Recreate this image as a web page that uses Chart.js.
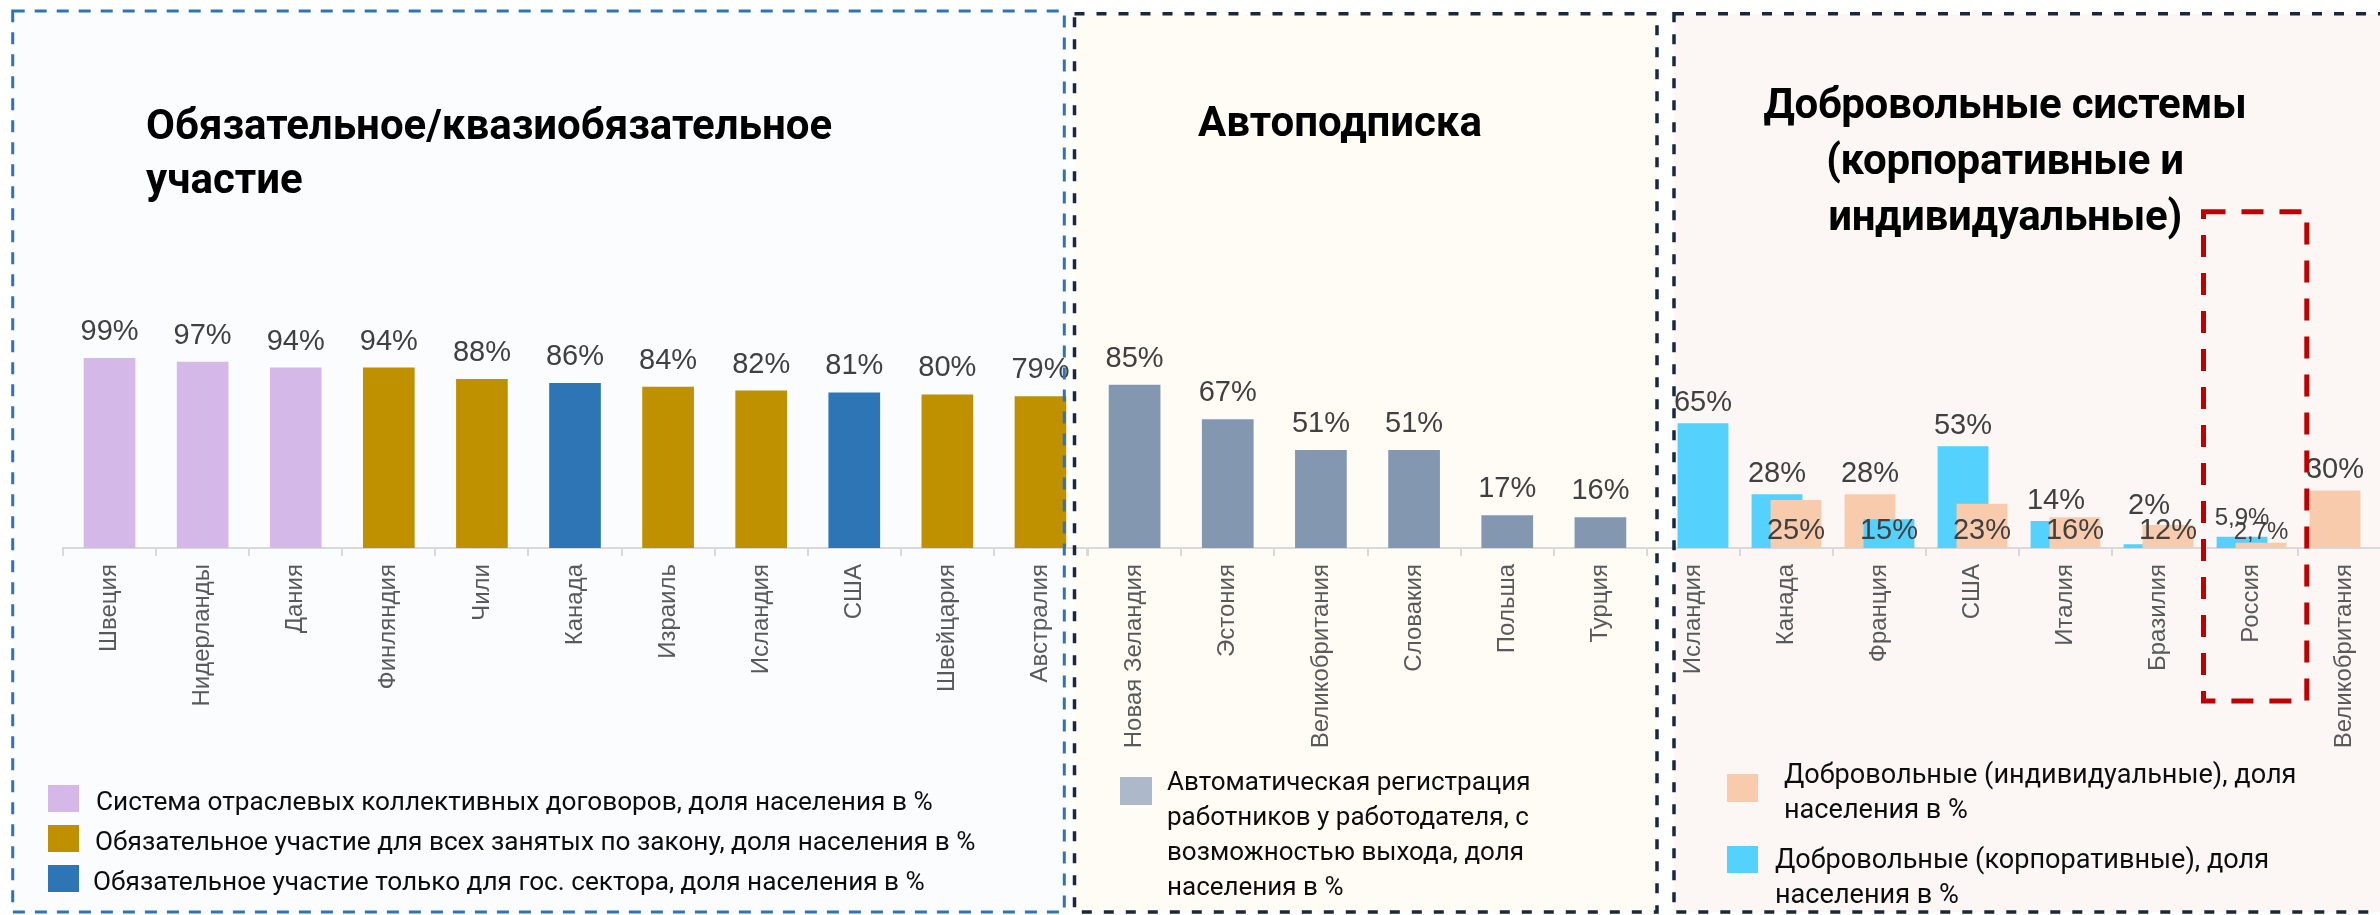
<!DOCTYPE html>
<html lang="ru">
<head>
<meta charset="utf-8">
<title>Системы пенсионного участия</title>
<script src="https://cdn.jsdelivr.net/npm/chart.js@4.4.1/dist/chart.umd.min.js"></script>
<style>
  html, body { margin: 0; padding: 0; overflow: hidden; background: #fff; }
  #page { position: relative; width: 2380px; height: 915px; overflow: hidden; }
  svg, canvas { position: absolute; left: 0; top: 0; }
  .t { position: absolute; white-space: nowrap; color: #0d0d0d; font-family: Roboto, "Open Sans", sans-serif; }
  .title { font-weight: 700; font-size: 42px; line-height: 54px; color: #000; }
  .leg1 { font-size: 26.2px; line-height: 30px; }
  .leg2 { font-size: 26px; line-height: 35px; }
  .leg3 { font-size: 27.1px; line-height: 35px; }
  .sw { position: absolute; }
</style>
</head>
<body>
<div id="page">
  <svg width="2380" height="915" style="z-index:0">
    <rect x="12.7" y="11" width="1051.6" height="901" fill="#FBFCFE"/>
    <rect x="1074.5" y="13.7" width="582.5" height="898.3" fill="#FFFCF5"/>
    <rect x="1674" y="13.7" width="800" height="898.3" fill="#FCF7F5"/>
  </svg>

  <canvas id="mandatory" width="2400" height="915" style="z-index:1"></canvas>
  <canvas id="auto" width="2400" height="915" style="z-index:1"></canvas>
  <canvas id="voluntary" width="2400" height="915" style="z-index:1"></canvas>

  <svg width="2380" height="915" style="z-index:2" fill="none">
    <rect x="12.7" y="11" width="1051.6" height="901" stroke="#2E75B6" stroke-width="3" stroke-dasharray="12 10"/>
    <rect x="1074.5" y="13.7" width="582.5" height="898.3" stroke="#17283F" stroke-width="3.5" stroke-dasharray="10 12"/>
    <rect x="1674" y="13.7" width="800" height="898.3" stroke="#17283F" stroke-width="3.5" stroke-dasharray="10 12"/>
    <!-- рамка вокруг России -->
    <rect x="2203.5" y="211.7" width="103.3" height="489.3" stroke="#C00000" stroke-width="5" stroke-dasharray="22 16"/>
  </svg>

  <div style="position:absolute;left:0;top:0;width:2380px;height:915px;z-index:3">
    <div class="t title" style="left:146px;top:97.6px">Обязательное/квазиобязательное<br>участие</div>
    <div class="t title" style="left:1198px;top:95.3px">Автоподписка</div>
    <div class="t title" style="left:1705px;top:75.6px;width:600px;text-align:center;line-height:56px;letter-spacing:-0.3px">Добровольные системы<br>(корпоративные и<br>индивидуальные)</div>

    <div class="sw" style="left:48px;top:785px;width:31px;height:27px;background:#D5B8E8"></div>
    <div class="t leg1" style="left:96px;top:786px">Система отраслевых коллективных договоров, доля населения в %</div>
    <div class="sw" style="left:48px;top:825px;width:31px;height:27px;background:#BF9000"></div>
    <div class="t leg1" style="left:95px;top:826px">Обязательное участие для всех занятых по закону, доля населения в %</div>
    <div class="sw" style="left:48px;top:865px;width:31px;height:27px;background:#2E75B6"></div>
    <div class="t leg1" style="left:93px;top:866px">Обязательное участие только для гос. сектора, доля населения в %</div>

    <div class="sw" style="left:1120px;top:777px;width:32px;height:28px;background:#ADB9CA"></div>
    <div class="t leg2" style="left:1167px;top:764.3px">Автоматическая регистрация<br>работников у работодателя, с<br>возможностью выхода, доля<br>населения в %</div>

    <div class="sw" style="left:1727px;top:774px;width:31px;height:28px;background:#F8CBAD"></div>
    <div class="t leg3" style="left:1784px;top:756.9px">Добровольные (индивидуальные), доля<br>населения в %</div>
    <div class="sw" style="left:1727px;top:846px;width:31px;height:27px;background:#55D1FE"></div>
    <div class="t leg3" style="left:1775px;top:841.6px">Добровольные (корпоративные), доля<br>населения в %</div>
  </div>
</div>

<script>
// обязательное / квазиобязательное участие
const mandatoryCountries = ['Швеция', 'Нидерланды', 'Дания', 'Финляндия', 'Чили', 'Канада', 'Израиль', 'Исландия', 'США', 'Швейцария', 'Австралия'];
const mandatoryValues = [99, 97, 94, 94, 88, 86, 84, 82, 81, 80, 79];
const mandatoryType = ['sector', 'sector', 'sector', 'law', 'law', 'public', 'law', 'law', 'public', 'law', 'law'];

// автоподписка
const autoCountries = ['Новая Зеландия', 'Эстония', 'Великобритания', 'Словакия', 'Польша', 'Турция'];
const autoValues = [85, 67, 51, 51, 17, 16];

// добровольные системы
const volCountries = ['Исландия', 'Канада', 'Франция', 'США', 'Италия', 'Бразилия', 'Россия', 'Великобритания'];
const volCorporate = [65, 28, 15, 53, 14, 2, 5.9, null];
const volIndividual = [null, 25, 28, 23, 16, 12, 2.7, 30];
const volFront = ['corp', 'ind', 'corp', 'ind', 'ind', 'ind', 'ind', 'corp']; // какой ряд стоит впереди (справа)

const typeColors = { sector: '#D4B8E7', law: '#BF9000', public: '#2E75B6' };
const corpColor = '#55D1FE';
const indColor = '#F8CBAD';

const axisFont = { family: "'Liberation Sans', Arial, sans-serif", size: 24 };
const fmt = v => String(v).replace('.', ',') + '%';

// рисуем ряды по порядку: правый столбец поверх левого
const drawInOrder = {
  id: 'drawInOrder',
  beforeDatasetsDraw(chart) {
    chart.getSortedVisibleDatasetMetas().forEach(m => m.controller.draw());
    return false;
  }
};

// подписи значений над столбцами
const valueLabels = {
  id: 'valueLabels',
  afterDraw(chart, args, opts) {
    const ctx = chart.ctx;
    const base = chart.chartArea.bottom;
    const metas = chart.getSortedVisibleDatasetMetas();
    ctx.save();
    ctx.fillStyle = '#404040';
    ctx.textAlign = 'center';
    ctx.textBaseline = 'alphabetic';
    const size = v => (Number.isInteger(v) ? 29 : 24);
    chart.data.labels.forEach((lab, i) => {
      const bars = metas
        .map(m => ({ el: m.data[i], v: chart.data.datasets[m.index].data[i] }))
        .filter(b => b.v != null);
      if (bars.length === 1) {
        const b = bars[0];
        ctx.font = size(b.v) + 'px ' + axisFont.family;
        ctx.fillText(fmt(b.v), b.el.x, b.el.y - opts.gap);
      } else if (bars.length === 2) {
        const [l, r] = bars;
        const rBase = base - 9;
        let lBase = l.el.y - opts.gap;
        if (lBase > rBase - 12) lBase = rBase - size(r.v) * 0.72 - 4;
        ctx.font = size(r.v) + 'px ' + axisFont.family;
        ctx.fillText(fmt(r.v), r.el.x, rBase);
        ctx.font = size(l.v) + 'px ' + axisFont.family;
        ctx.fillText(fmt(l.v), l.el.x, lBase);
      }
    });
    ctx.restore();
  }
};

function options(padLeft, padRight, gap) {
  return {
    responsive: false,
    animation: false,
    layout: { padding: { left: padLeft, right: padRight, top: 356, bottom: 0 } },
    plugins: {
      legend: { display: false },
      tooltip: { enabled: false },
      valueLabels: { gap: gap }
    },
    scales: {
      x: {
        offset: true,
        grid: { offset: true, drawOnChartArea: false, drawTicks: true, tickLength: 8, color: '#D9D9D9', lineWidth: 2 },
        border: { display: true, color: '#D9D9D9', width: 2 },
        ticks: { autoSkip: false, minRotation: 90, maxRotation: 90, padding: 8, color: '#595959', font: axisFont },
        afterFit: s => { s.height = 367; }
      },
      y: { display: false, min: 0, max: 100 }
    }
  };
}

new Chart(document.getElementById('mandatory'), {
  type: 'bar',
  data: {
    labels: mandatoryCountries,
    datasets: [{
      data: mandatoryValues,
      backgroundColor: mandatoryType.map(t => typeColors[t]),
      categoryPercentage: 1,
      barPercentage: 0.555
    }]
  },
  options: options(63, 2400 - 1087, 18),
  plugins: [valueLabels]
});

new Chart(document.getElementById('auto'), {
  type: 'bar',
  data: {
    labels: autoCountries,
    datasets: [{
      data: autoValues,
      backgroundColor: '#8497B0',
      categoryPercentage: 1,
      barPercentage: 0.555
    }]
  },
  options: options(1088, 2400 - 1647, 18),
  plugins: [valueLabels]
});

// левый (задний) и правый (передний) столбцы в каждой категории
const backData = volFront.map((f, i) => (f === 'corp' ? volIndividual[i] : volCorporate[i]));
const backColors = volFront.map(f => (f === 'corp' ? indColor : corpColor));
const frontData = volFront.map((f, i) => (f === 'corp' ? volCorporate[i] : volIndividual[i]));
const frontColors = volFront.map(f => (f === 'corp' ? corpColor : indColor));

new Chart(document.getElementById('voluntary'), {
  type: 'bar',
  data: {
    labels: volCountries,
    datasets: [
      { data: backData, backgroundColor: backColors, categoryPercentage: 0.408, barPercentage: 2.68 },
      { data: frontData, backgroundColor: frontColors, categoryPercentage: 0.408, barPercentage: 2.68 }
    ]
  },
  options: options(1647, 2400 - 2391, 12),
  plugins: [drawInOrder, valueLabels]
});
</script>
</body>
</html>
